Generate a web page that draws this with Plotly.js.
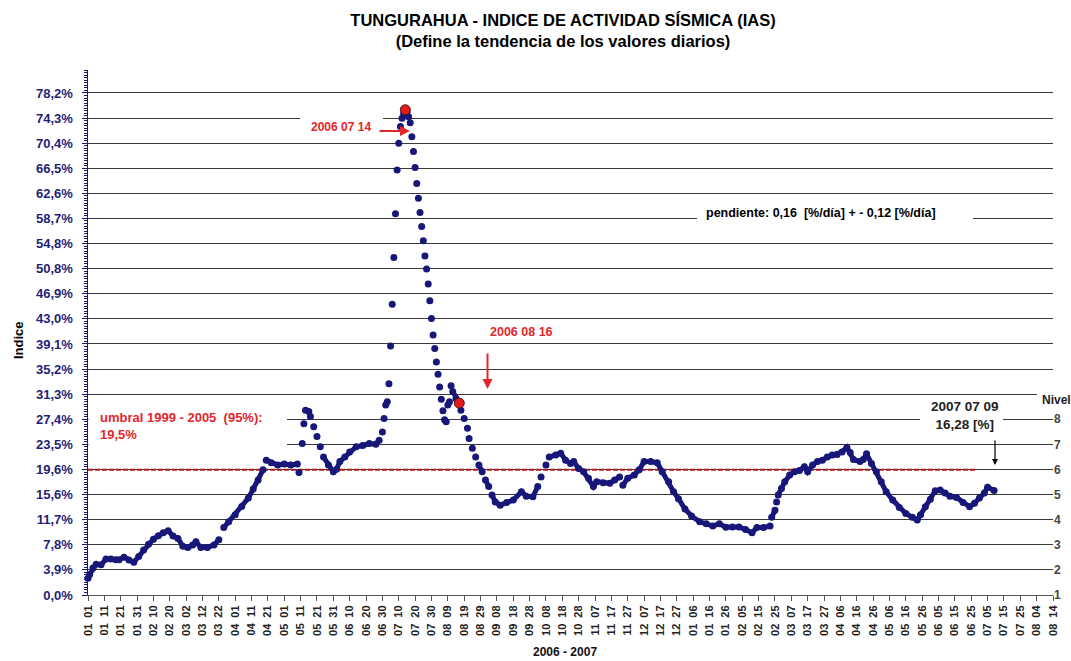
<!DOCTYPE html>
<html>
<head>
<meta charset="utf-8">
<script src="https://cdn.plot.ly/plotly-3.0.1.min.js"></script>
<style>
  html, body { margin: 0; padding: 0; background: #ffffff; }
  #chart { width: 1071px; height: 661px; }
</style>
</head>
<body>
<div id="chart"></div>
<script>
// ---- data ----
const startDate = '2006-01-01';
// days since 2006-01-01
const dayOffset = [
  0, 1, 3, 5, 8, 11, 14, 17, 19, 22, 25, 28, 31, 34, 37, 40, 43, 46, 49, 52,
  55, 58, 61, 64, 66, 69, 73, 77, 80, 83, 86, 90, 94, 98, 101, 104, 107, 109, 112, 116,
  120, 124, 128, 129, 131, 132, 133, 135, 136, 138, 140, 142, 144, 147, 150, 152, 154, 157, 160, 164,
  168, 172, 176, 178, 180, 181, 182, 183, 184, 185, 186, 187, 188, 189, 190, 191, 192, 193, 194, 195,
  196, 197, 198, 199, 200, 201, 202, 203, 204, 205, 206, 207, 208, 209, 210, 211, 212, 213, 214, 215,
  216, 217, 218, 219, 220, 221, 222, 223, 225, 227, 228, 230, 232, 233, 235, 237, 239, 241, 243, 245,
  247, 249, 252, 256, 260, 265, 268, 272, 275, 277, 280, 282, 286, 289, 292, 295, 297, 300, 303, 306,
  309, 311, 315, 319, 322, 325, 327, 330, 334, 337, 340, 344, 348, 351, 355, 358, 361, 365, 369, 374,
  378, 382, 386, 390, 394, 398, 402, 406, 409, 413, 417, 418, 420, 421, 422, 424, 426, 429, 432, 435,
  438, 440, 443, 446, 449, 452, 455, 458, 461, 464, 466, 468, 472, 474, 476, 479, 482, 485, 488, 492,
  496, 500, 504, 507, 509, 512, 515, 518, 521, 524, 527, 531, 535, 539, 542, 545, 548, 550, 554
];
// IAS index, percent
const iasPct = [
  2.6, 3.2, 4.2, 4.8, 4.7, 5.6, 5.6, 5.5, 5.5, 5.9, 5.45, 5.1, 6.0, 7.0, 7.9, 8.7, 9.25, 9.7, 10.0, 9.2,
  8.8, 7.6, 7.4, 7.8, 8.3, 7.4, 7.4, 7.8, 8.6, 10.5, 11.4, 12.5, 13.8, 15.1, 16.5, 17.9, 19.5, 21.0, 20.6, 20.25,
  20.4, 20.25, 20.4, 19.1, 23.6, 26.7, 28.8, 28.6, 27.8, 26.2, 24.7, 23.1, 21.5, 20.25, 19.2, 19.6, 20.8, 21.5, 22.3, 23.1,
  23.3, 23.6, 23.5, 24.1, 25.4, 27.5, 29.6, 30.1, 32.9, 38.8, 45.3, 52.6, 59.4, 66.2, 70.4, 73.0, 74.3, 75.0, 75.6, 75.2,
  74.5, 73.6, 71.4, 69.1, 66.6, 64.1, 61.8, 59.6, 57.4, 55.2, 52.8, 50.8, 48.45, 45.85, 43.1, 40.5, 38.4, 36.3, 34.4, 32.4,
  30.5, 28.7, 27.3, 27.0, 29.6, 30.1, 32.6, 31.7, 30.6, 29.9, 28.8, 27.5, 26.0, 24.4, 22.85, 21.5, 20.25, 19.2, 17.9, 16.9,
  15.6, 14.5, 14.0, 14.4, 14.8, 16.1, 15.4, 15.3, 16.9, 18.4, 20.25, 21.5, 21.8, 22.1, 21.0, 20.5, 20.8, 19.7, 19.2, 18.2,
  16.9, 17.65, 17.5, 17.4, 17.9, 18.4, 17.1, 18.2, 18.7, 19.5, 20.8, 20.8, 20.6, 19.2, 17.65, 16.1, 15.0, 13.4, 12.3, 11.4,
  11.1, 10.75, 11.1, 10.55, 10.6, 10.6, 10.2, 9.7, 10.5, 10.5, 10.75, 12.1, 13.2, 14.5, 15.6, 16.6, 17.65, 18.7, 19.2, 19.4,
  20.0, 19.2, 20.25, 20.8, 21.0, 21.5, 21.8, 21.9, 22.3, 23.0, 22.2, 21.1, 20.8, 21.1, 22.0, 20.5, 19.2, 17.65, 16.1, 14.8,
  13.65, 12.7, 12.1, 11.7, 12.5, 13.75, 14.9, 16.25, 16.35, 15.9, 15.4, 15.2, 14.4, 13.75, 14.3, 15.1, 15.9, 16.8, 16.28
];
const markedDates = ['2006-07-14', '2006-08-16'];
const markedValues = [75.6, 29.9];
const umbralDates = ['2006-01-01', '2007-06-28'];
const umbralValue = 19.5;
const axisStart = '2006-01-01';
const axisEnd = '2007-08-14';
const yStep = 3.911;            // % per gridline (labels 0,0% ... 78,2%)
const nivelLevels = [1, 2, 3, 4, 5, 6, 7, 8];
const titleText = 'TUNGURAHUA - INDICE DE ACTIVIDAD SÍSMICA (IAS)<br>(Define la tendencia de los valores diarios)';

// ---- helpers ----
function toDate(d) {
  const t = Date.parse(startDate + 'T00:00:00Z') + d * 86400000;
  return new Date(t).toISOString().slice(0, 10);
}
const xDates = dayOffset.map(toDate);

// daily dots overlap into a band where the series moves slowly;
// join neighbouring readings only there (steep days stay as separate dots)
const bandX = [], bandY = [];
for (let i = 0; i < iasPct.length; i++) {
  if (i > 0) {
    const slope = Math.abs(iasPct[i] - iasPct[i - 1]) / (dayOffset[i] - dayOffset[i - 1]);
    if (slope > 0.6) { bandX.push(null); bandY.push(null); }
  }
  bandX.push(xDates[i]); bandY.push(iasPct[i]);
}

const FONT = 'Liberation Sans, Arial, sans-serif';
const NAVY = '#17177a';
const RED = '#e3262b';

// plot area geometry (px) used to place annotations in paper coords
const L = 88, R = 1053, T = 70, B = 595;
const px = x => (x - L) / (R - L);
const py = y => (B - y) / (B - T);

const yMax = 81.8;

const traces = [
  {
    x: umbralDates, y: umbralDates.map(() => umbralValue),
    mode: 'lines', type: 'scatter', hoverinfo: 'skip',
    line: { color: '#b01818', width: 2, dash: '5px,2px' }
  },
  {
    x: bandX, y: bandY, mode: 'lines', type: 'scatter', connectgaps: false,
    line: { color: NAVY, width: 5 }, hoverinfo: 'skip'
  },
  {
    x: xDates, y: iasPct, mode: 'markers', type: 'scatter', cliponaxis: false,
    marker: { color: NAVY, size: 7, line: { width: 0 } }
  },
  {
    x: markedDates, y: markedValues, mode: 'markers', type: 'scatter', cliponaxis: false,
    marker: { color: '#e01c1c', size: 10, line: { color: '#5a1010', width: 1 } }
  },
  {
    x: [axisStart], y: [1], yaxis: 'y2', mode: 'markers', type: 'scatter',
    marker: { opacity: 0 }, hoverinfo: 'skip'
  }
];

const whiteBox = (x0, x1, yTop, yBot) => ({
  type: 'rect', xref: 'paper', yref: 'paper', layer: 'above',
  x0: px(x0), x1: px(x1), y0: py(yBot), y1: py(yTop),
  fillcolor: '#ffffff', line: { width: 0 }
});

const layout = {
  width: 1071, height: 661,
  paper_bgcolor: '#ffffff', plot_bgcolor: '#ffffff',
  showlegend: false,
  separators: ',.',
  margin: { l: L, r: 1071 - R, t: T, b: 661 - B, pad: 0 },
  font: { family: FONT, color: '#000' },
  title: {
    text: titleText,
    font: { family: FONT, size: 16.5, color: '#000', weight: 'bold' },
    xref: 'container', yref: 'container', x: 563 / 1071, xanchor: 'center',
    y: 1 - 26 / 661, yanchor: 'top'
  },
  xaxis: {
    type: 'date',
    range: [axisStart, axisEnd],
    tick0: axisStart, dtick: 10 * 86400000,
    tickformat: '%m\u00a0\u00a0%d',
    tickangle: -90,
    tickfont: { family: FONT, size: 11, color: '#222', weight: 'bold' },
    ticks: 'outside', ticklen: 5, tickcolor: '#555', tickwidth: 1,
    showline: true, linecolor: '#555', linewidth: 1,
    showgrid: false, zeroline: false
  },
  yaxis: {
    range: [0, yMax],
    tick0: 0, dtick: yStep,
    tickformat: '.1f', ticksuffix: '%',
    tickfont: { family: FONT, size: 13, color: '#1f1f78', weight: 'bold' },
    ticks: 'outside', ticklen: 5, tickcolor: NAVY, tickwidth: 1,
    ticklabelstandoff: 6,
    minor: { dtick: yStep / 10, ticks: 'outside', ticklen: 3, tickcolor: NAVY, showgrid: false },
    showline: true, linecolor: NAVY, linewidth: 1.5,
    showgrid: true, gridcolor: '#3a3a3a', gridwidth: 1,
    zeroline: false
  },
  yaxis2: {
    overlaying: 'y', side: 'right',
    range: [1, 1 + yMax / yStep],
    tickmode: 'array', tickvals: nivelLevels, ticktext: nivelLevels.map(String),
    tickfont: { family: FONT, size: 12, color: '#444', weight: 'bold' },
    ticks: '', showgrid: false, showline: false, zeroline: false
  },
  shapes: [
    // white text boxes that interrupt the gridlines, as in the reference
    whiteBox(88.5, 287, 402, 452),
    whiteBox(300, 383, 114, 139),
    whiteBox(697, 973, 205, 226),
    whiteBox(920, 1003, 399, 432),
    whiteBox(1037, 1053, 385, 405)
  ],
  annotations: [
    { text: 'Indice', xref: 'paper', yref: 'paper', x: px(18), y: py(340),
      textangle: -90, showarrow: false, xanchor: 'center', yanchor: 'middle',
      font: { family: FONT, size: 13, color: '#000', weight: 'bold' } },
    { text: '2006 - 2007', xref: 'paper', yref: 'paper', x: px(565), y: py(652),
      showarrow: false, xanchor: 'center', yanchor: 'middle',
      font: { family: FONT, size: 12, color: '#111', weight: 'bold' } },
    { text: 'umbral 1999 - 2005  (95%):<br>19,5%', xref: 'paper', yref: 'paper',
      x: px(98), y: py(425.5), xanchor: 'left', yanchor: 'middle', align: 'left',
      showarrow: false, font: { family: FONT, size: 13, color: RED, weight: 'bold' } },
    { text: '2006 07 14', xref: 'paper', yref: 'paper', x: px(341), y: py(127),
      showarrow: false, xanchor: 'center', yanchor: 'middle',
      font: { family: FONT, size: 12, color: RED, weight: 'bold' } },
    { text: '', xref: 'paper', yref: 'paper', x: px(410), y: py(131),
      ax: -32, ay: 0, showarrow: true, arrowhead: 2, arrowsize: 1, arrowwidth: 2,
      arrowcolor: RED, standoff: 0, startstandoff: 0 },
    { text: '2006 08 16', xref: 'paper', yref: 'paper', x: px(521), y: py(332),
      showarrow: false, xanchor: 'center', yanchor: 'middle',
      font: { family: FONT, size: 12.5, color: RED, weight: 'bold' } },
    { text: '', xref: 'paper', yref: 'paper', x: px(487.5), y: py(389),
      ax: 0, ay: -37, showarrow: true, arrowhead: 2, arrowsize: 1, arrowwidth: 2,
      arrowcolor: RED, standoff: 0, startstandoff: 0 },
    { text: 'pendiente: 0,16 \u00a0[%/día] + - 0,12 [%/día]', xref: 'paper', yref: 'paper',
      x: px(821), y: py(213), showarrow: false, xanchor: 'center', yanchor: 'middle',
      font: { family: FONT, size: 12.5, color: '#000', weight: 'bold' } },
    { text: '2007 07 09<br>16,28 [%]', xref: 'paper', yref: 'paper',
      x: px(965), y: py(415), showarrow: false, xanchor: 'center', yanchor: 'middle',
      font: { family: FONT, size: 13.5, color: '#222', weight: 'bold' } },
    { text: '', xref: 'paper', yref: 'paper', x: px(995), y: py(465),
      ax: 0, ay: -26, showarrow: true, arrowhead: 2, arrowsize: 1, arrowwidth: 1.2,
      arrowcolor: '#000', standoff: 0, startstandoff: 0 },
    { text: 'Nivel', xref: 'paper', yref: 'paper', x: px(1056), y: py(400),
      showarrow: false, xanchor: 'center', yanchor: 'middle',
      font: { family: FONT, size: 12, color: '#222', weight: 'bold' } }
  ]
};

Plotly.newPlot('chart', traces, layout, { displayModeBar: false, staticPlot: true });
</script>
</body>
</html>
